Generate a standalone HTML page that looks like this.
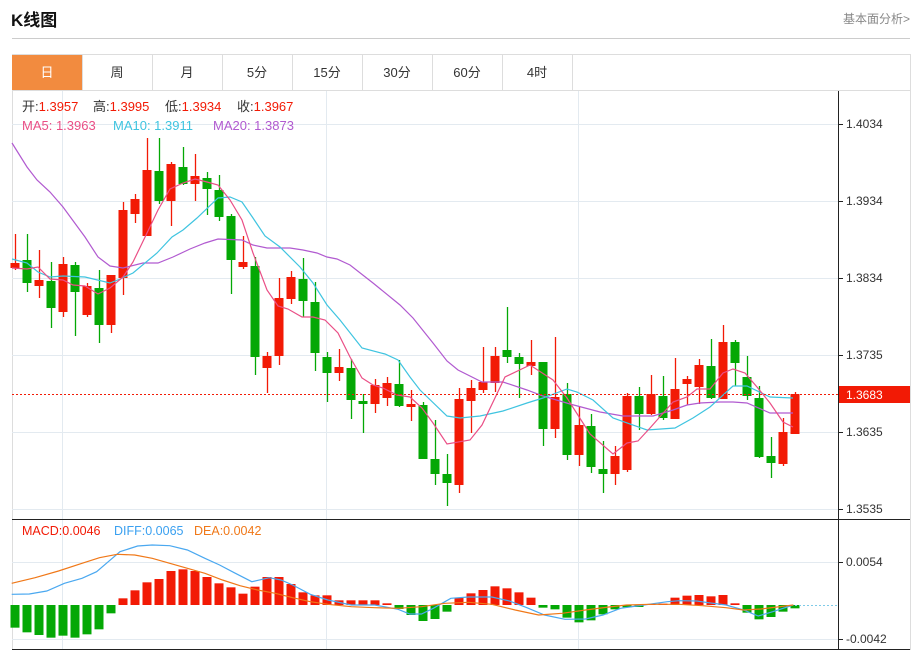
<!DOCTYPE html>
<html><head><meta charset="utf-8"><style>
body{margin:0;width:918px;height:652px;background:#fff;font-family:"Liberation Sans","Noto Sans CJK SC",sans-serif;overflow:hidden;position:relative}
.t{position:absolute;white-space:nowrap}
</style></head><body>
<div class="t" style="left:11px;top:6px;font-size:17px;font-weight:bold;color:#111">K线图</div>
<div class="t" style="left:843px;top:10px;font-size:12px;color:#888">基本面分析&gt;</div>
<div style="position:absolute;left:12px;top:38px;width:898px;height:1px;background:#ccc"></div>
<svg id="s" width="918" height="652" style="position:absolute;left:0;top:0" xmlns="http://www.w3.org/2000/svg"></svg>
<script>
var s=document.getElementById('s'),h='';
function R(x,y,w,hh,f){h+='<rect x="'+x+'" y="'+y+'" width="'+w+'" height="'+hh+'" fill="'+f+'"/>';}
function L(a,b,c,d,st,extra){h+='<line x1="'+a+'" y1="'+b+'" x2="'+c+'" y2="'+d+'" stroke="'+st+'" '+(extra||'')+'/>';}
function T(x,y,t,f,sz,extra){h+='<text x="'+x+'" y="'+y+'" fill="'+f+'" font-size="'+(sz||12)+'" '+(extra||'')+'>'+t+'</text>';}
function P(pts,c,w){h+='<polyline fill="none" stroke="'+c+'" stroke-width="'+(w||1.2)+'" points="'+pts.map(function(p){return p[0]+','+p[1]}).join(' ')+'"/>';}
R(12,54.5,898,595,'#fff');
h+='<rect x="12.5" y="54.5" width="898" height="595" fill="none" stroke="#ddd"/>';
L(12,90.5,910,90.5,'#ddd');
var tabs=['日','周','月','5分','15分','30分','60分','4时'],tx=[12,82,152,222,292,362,432,502,572];
R(12,55,70,35,'#f28b3f');
for(var i=0;i<8;i++){L(tx[i+1]+.5,55,tx[i+1]+.5,90,'#ddd');T((tx[i]+tx[i+1])/2,77,tabs[i],i==0?'#fff':'#333',13,'text-anchor="middle"');}
[124,201,278,355,432,509].forEach(function(y){L(12,y+.5,838,y+.5,'#e3eaf0');});
[562,639].forEach(function(y){L(12,y+.5,838,y+.5,'#e3eaf0');});
[62,326,578].forEach(function(x){L(x+.5,91,x+.5,649,'#e3eaf0');});
L(838.5,91,838.5,650,'#222');L(12,519.5,910,519.5,'#222');L(12,649.5,910,649.5,'#222');
var lab=[[124,'1.4034'],[201,'1.3934'],[278,'1.3834'],[355,'1.3735'],[432,'1.3635'],[509,'1.3535'],[562,'0.0054'],[639,'-0.0042']];
lab.forEach(function(a){L(838,a[0]+.5,843,a[0]+.5,'#222');T(846,a[0]+4,a[1],'#333',12);});
var c=[[263,268,234,270,1],[260,283,234,292,0],[280,286,250,298,1],[281,308,262,328,0],[264,312,257,317,1],[265,292,262,336,0],[286,315,283,317,1],[288,325,270,343,0],[275,325,275,333,1],[210,278,202,295,1],
[199,214,194,223,1],[170,236,138,236,1],[171,201,138,204,0],[164,201,162,226,1],[167,184,147,185,0],[176,184,154,201,1],[178,189,172,215,0],[190,217,175,221,0],[216,260,214,294,0],[262,267,236,269,1],
[266,357,257,375,0],[356,368,352,393,1],[298,356,278,365,1],[277,299,271,304,1],[279,301,258,317,0],[302,353,282,371,0],[357,373,352,402,0],[367,373,349,381,1],[368,400,359,419,0],[401,404,394,433,0],
[385,404,379,413,1],[383,398,377,406,1],[384,406,360,407,0],[404,407,390,421,1],[405,459,402,459,0],[459,474,420,485,0],[474,483,454,506,0],[399,485,388,493,1],[388,401,380,433,1],[382,390,347,393,1],
[356,383,347,392,1],[350,357,307,363,0],[357,364,353,398,0],[362,366,340,375,1],[362,429,362,446,0],[397,429,337,438,1],[394,455,383,460,0],[425,455,407,466,1],[426,467,414,473,0],[469,474,441,493,0],
[456,474,446,485,1],[396,470,393,472,1],[396,414,387,430,0],[394,414,375,415,1],[396,418,376,420,0],[389,419,358,419,1],[379,384,376,405,1],[365,387,359,404,1],[366,398,339,399,0],[342,399,325,399,1],
[342,363,340,386,0],[377,396,356,400,0],[398,457,386,458,0],[456,463,437,478,0],[432,464,418,466,1],[394,434,392,434,1]];
c.forEach(function(k,i){var x=15+12*i,col=k[4]?'#f21a05':'#04a805';L(x+.5,k[2],x+.5,k[3],col,'stroke-width="1.3"');R(x-4.5,k[0],9,Math.max(2,k[1]-k[0]),col);});
P([[12,143],[27,167],[37,180],[50,192],[63,207],[85,237],[98,257],[110,266],[123,268],[143,263],[158,263],[173,257],[190,249],[205,243],[218,239],[242,240],[253,245],[267,248],[290,248],[303,250],[317,253],[327,257],[337,259],[350,265],[373,283],[400,305],[413,318],[433,343],[447,361],[458,370],[482,382],[503,382],[527,390],[543,396],[570,404],[600,412],[623,416],[653,416],[673,410],[687,405],[700,403],[720,402],[733,402],[747,403],[770,413],[793,413]],'#b15ad0');
P([[12,259],[27,263],[38,272],[50,277],[63,276],[85,277],[110,283],[120,279],[133,273],[157,253],[172,237],[183,230],[197,218],[218,198],[230,197],[242,202],[253,218],[265,236],[280,247],[300,267],[313,283],[327,305],[340,320],[362,348],[385,354],[398,360],[410,377],[420,390],[447,416],[460,418],[480,416],[503,411],[527,403],[543,398],[567,389],[577,392],[593,400],[613,418],[647,430],[675,428],[693,418],[710,407],[733,386],[747,386],[770,397],[793,398]],'#3fc4e0');
P([[12,268],[27,269],[38,267],[50,279],[63,280],[73,285],[85,286],[98,294],[110,288],[123,277],[133,262],[147,233],[158,210],[170,189],[183,183],[195,179],[207,182],[218,185],[230,200],[242,220],[253,253],[267,290],[278,306],[288,309],[302,317],[313,317],[325,320],[338,333],[350,357],[362,378],[373,385],[383,388],[397,395],[410,397],[422,408],[433,423],[447,444],[470,440],[482,425],[505,377],[530,365],[553,380],[567,398],[590,434],[613,454],[627,443],[638,441],[650,428],[673,402],[687,397],[697,389],[710,389],[723,373],[733,369],[745,373],[757,387],[770,403],[783,422],[793,427]],'#ea4f86');
L(12,394.5,838,394.5,'#f21a05','stroke-dasharray="2,2"');
R(839,386,71,17,'#f21a05');T(846,399,'1.3683','#fff',12);
function IT(x,y,a,b,w){h+='<text x="'+x+'" y="'+y+'" font-size="13"><tspan fill="#333">'+a+'</tspan><tspan fill="#f21a05">'+b+'</tspan></text>';}
IT(22,111,'开:','1.3957');IT(93,111,'高:','1.3995');IT(165,111,'低:','1.3934');IT(237,111,'收:','1.3967');
T(22,130,'MA5: 1.3963','#ea4f86',13);T(113,130,'MA10: 1.3911','#3fc4e0',13);T(213,130,'MA20: 1.3873','#b15ad0',13);
T(22,535,'MACD:0.0046','#f21a05',12.5);T(114,535,'DIFF:0.0065','#3aa0f0',12.5);T(194,535,'DEA:0.0042','#f07818',12.5);
var m=[338,352,360,368,362,368,358,343,295,250,226,202,192,168,163,168,186,205,217,236,215,186,186,207,232,241,241,256,256,256,256,265,282,300,318,312,290,248,235,225,214,220,232,248,278,283,308,322,316,298,283,277,276,268,266,248,242,240,244,240,265,293,313,306,290,280];
m.forEach(function(v,i){var x=15+12*i,y=515+v/3;if(y<605)R(x-4.5,y,9,605-y,'#f21a05');else R(x-4.5,605,9,y-605,'#04a805');});
L(795,605.5,838,605.5,'#7fcbe8','stroke-dasharray="2,2"');
function cv(a){return a.map(function(p){return [(p[0]/1.708).toFixed(1),(515+p[1]/3).toFixed(1)]});}
P(cv([[20,238],[50,237],[80,228],[110,205],[140,190],[165,170],[185,140],[205,110],[235,93],[260,90],[290,92],[320,105],[350,130],[375,150],[400,173],[430,200],[460,188],[480,195],[500,210],[530,238],[560,255],[600,270],[640,270],[680,283],[700,297],[720,297],[740,280],[770,250],[800,246],[840,246],[870,258],[900,278],[930,300],[965,313],[1000,312],[1030,300],[1060,280],[1100,270],[1140,260],[1160,257],[1190,258],[1210,263],[1240,270],[1270,285],[1295,303],[1320,290],[1355,270]]),'#4aa8f0');
P(cv([[20,205],[60,188],[100,168],[140,145],[170,128],[200,118],[230,120],[260,130],[290,145],[320,160],[350,175],[380,195],[410,212],[440,225],[470,235],[500,248],[530,260],[560,268],[600,275],[640,278],[680,280],[720,275],[760,265],[800,262],[840,268],[880,285],[920,300],[960,295],[1000,285],[1040,276],[1070,270],[1110,268],[1160,268],[1200,272],[1240,278],[1270,285],[1300,282],[1355,270]]),'#f07818');
s.innerHTML=h;
</script>
</body></html>
